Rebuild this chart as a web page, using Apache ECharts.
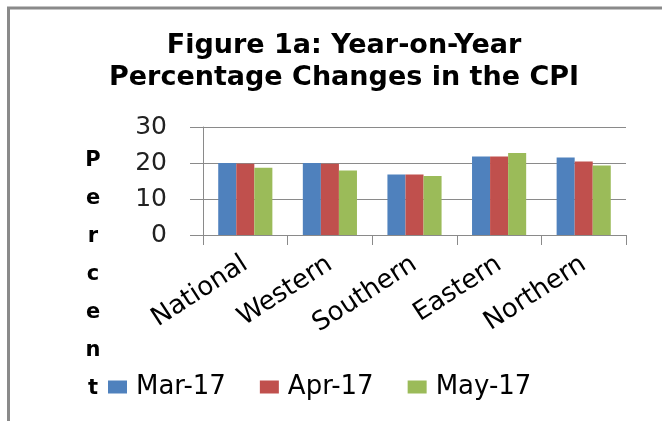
<!DOCTYPE html>
<html>
<head>
<meta charset="utf-8">
<script src="https://cdn.jsdelivr.net/npm/echarts@6/dist/echarts.min.js"></script>
<style>
html,body{margin:0;padding:0;background:#fff;}
#chart{width:662px;height:421px;}
</style>
</head>
<body>
<div id="chart"></div>
<script>
var categories = ['National', 'Western', 'Southern', 'Eastern', 'Northern'];
var seriesNames = ['Mar-17', 'Apr-17', 'May-17'];
var mar17 = [20.0, 20.0, 16.8, 21.8, 21.5];
var apr17 = [19.8, 19.8, 16.8, 21.8, 20.4];
var may17 = [18.7, 17.9, 16.4, 22.8, 19.3];
var yTicks = [0, 10, 20, 30];
var titleText = 'Figure 1a: Year-on-Year\nPercentage Changes in the CPI';
var yAxisTitle = 'Percent';

var colors = ['#4F81BD', '#C0504D', '#9BBB59'];
var axisGray = '#8a8a8a';

var chart = echarts.init(document.getElementById('chart'));
chart.setOption({
  animation: false,
  color: colors,
  title: [
    {
      text: titleText,
      left: 339,
      top: 25,
      textAlign: 'center',
      textStyle: {
        fontFamily: 'DejaVu Sans',
        fontWeight: 'bold',
        fontSize: 27,
        lineHeight: 32,
        color: '#000'
      }
    },
    {
      text: yAxisTitle.split('').join('\n'),
      left: 88,
      top: 137,
      textAlign: 'center',
      textStyle: {
        fontFamily: 'DejaVu Sans',
        fontWeight: 'bold',
        fontSize: 21,
        lineHeight: 38,
        color: '#000'
      }
    }
  ],
  graphic: [
    { type: 'line', shape: { x1: 7, y1: 8, x2: 662, y2: 8 }, style: { stroke: axisGray, lineWidth: 3 } },
    { type: 'line', shape: { x1: 8.5, y1: 7, x2: 8.5, y2: 421 }, style: { stroke: axisGray, lineWidth: 3 } }
  ],
  legend: {
    data: seriesNames,
    left: 103,
    top: 369,
    icon: 'rect',
    itemWidth: 19,
    itemHeight: 13,
    itemGap: 34,
    textStyle: {
      fontFamily: 'DejaVu Sans',
      fontSize: 26,
      color: '#000',
      width: 105,
      padding: [0, 0, 0, 4]
    }
  },
  grid: { left: 203, right: 36, top: 127, bottom: 186, containLabel: false },
  xAxis: {
    type: 'category',
    data: categories,
    axisLine: { lineStyle: { color: axisGray, width: 1 } },
    axisTick: { show: true, length: 10, alignWithLabel: false, lineStyle: { color: axisGray } },
    axisLabel: {
      rotate: 33,
      margin: 27,
      fontFamily: 'DejaVu Sans',
      fontSize: 26,
      color: '#000',
      interval: 0
    }
  },
  yAxis: {
    type: 'value',
    min: yTicks[0],
    max: yTicks[yTicks.length - 1],
    interval: yTicks[1] - yTicks[0],
    axisLine: { show: true, lineStyle: { color: axisGray, width: 1 } },
    axisTick: { show: true, length: 13, lineStyle: { color: axisGray } },
    splitLine: { show: true, lineStyle: { color: axisGray, width: 1 } },
    axisLabel: {
      margin: 36,
      fontFamily: 'DejaVu Sans',
      fontSize: 25,
      color: '#222'
    }
  },
  series: [
    { name: seriesNames[0], type: 'bar', data: mar17, barGap: 0, barCategoryGap: '36%' },
    { name: seriesNames[1], type: 'bar', data: apr17, barGap: 0, barCategoryGap: '36%' },
    { name: seriesNames[2], type: 'bar', data: may17, barGap: 0, barCategoryGap: '36%' }
  ]
});
</script>
</body>
</html>
